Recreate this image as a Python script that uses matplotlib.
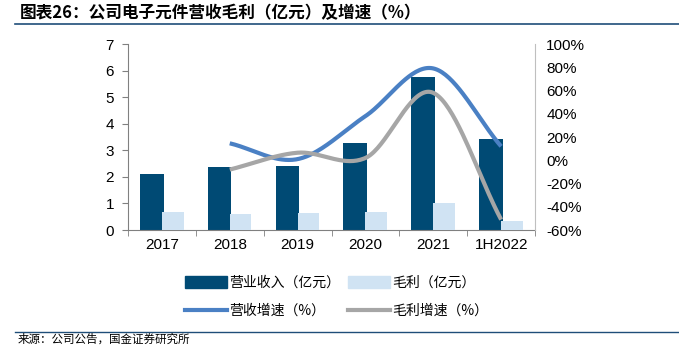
import numpy as np
import matplotlib.pyplot as plt
from matplotlib.patches import Patch
from matplotlib.lines import Line2D
from matplotlib.ticker import FuncFormatter

plt.rcParams['font.family'] = ['Liberation Sans', 'Noto Sans CJK SC', 'DejaVu Sans']

years = ['2017', '2018', '2019', '2020', '2021', '1H2022']
revenue = [2.09, 2.37, 2.40, 3.27, 5.77, 3.41]        # 营业收入（亿元）
gross = [0.67, 0.61, 0.65, 0.67, 1.01, 0.33]          # 毛利（亿元）
rev_growth = [np.nan, 14.6, 1.0, 38.0, 79.0, 12.0]    # 营收增速（%）
gp_growth = [np.nan, -8.0, 6.5, 2.0, 58.0, -51.0]     # 毛利增速（%）

c_rev = '#004A74'
c_gp = '#D0E3F3'
c_rg = '#4A80C4'
c_gg = '#A6A6A6'


def smooth(xs, ys, n=40):
    # Catmull-Rom pass through the points, similar to a smoothed line
    xs = np.asarray(xs, float)
    ys = np.asarray(ys, float)
    px = np.concatenate([[2 * xs[0] - xs[1]], xs, [2 * xs[-1] - xs[-2]]])
    py = np.concatenate([[2 * ys[0] - ys[1]], ys, [2 * ys[-1] - ys[-2]]])
    ox, oy = [], []
    t = np.linspace(0, 1, n)
    for i in range(1, len(px) - 2):
        p0, p1, p2, p3 = py[i - 1], py[i], py[i + 1], py[i + 2]
        q0, q1, q2, q3 = px[i - 1], px[i], px[i + 1], px[i + 2]
        for a, b, c, d, out in ((q0, q1, q2, q3, ox), (p0, p1, p2, p3, oy)):
            out.extend(0.5 * (2 * b + (-a + c) * t + (2 * a - 5 * b + 4 * c - d) * t ** 2
                              + (-a + 3 * b - 3 * c + d) * t ** 3))
    return np.array(ox), np.array(oy)


fig = plt.figure(figsize=(6.79, 3.48), dpi=100)
ax = fig.add_axes([0.1885, 0.339, 0.5995, 0.5345])
x = np.arange(len(years))

ax.bar(x - 0.15, revenue, width=0.35, color=c_rev, zorder=2)
ax.bar(x + 0.16, gross, width=0.32, color=c_gp, zorder=3)
ax.set_xlim(-0.5, len(years) - 0.5)
ax.set_ylim(0, 7)
ax.set_yticks(range(0, 8))
ax.set_xticks(x)
ax.set_xticklabels(years)
ax.set_xticks(np.arange(-0.5, len(years)), minor=True)
ax.tick_params(axis='x', which='major', length=0, pad=6, labelsize=11)
ax.tick_params(axis='x', which='minor', length=4, color='#808080')
ax.tick_params(axis='y', length=4, color='#808080', labelsize=11, pad=6)
for s in ('top', 'right'):
    ax.spines[s].set_visible(False)
ax.spines['left'].set_color('#808080')
ax.spines['bottom'].set_color('#808080')

ax2 = ax.twinx()
ax2.set_ylim(-60, 100)
ax2.set_yticks(range(-60, 101, 20))
ax2.yaxis.set_major_formatter(FuncFormatter(lambda v, p: f'{v:.0f}%'))
ax2.tick_params(axis='y', length=0, labelsize=11, pad=8)
for s in ('top', 'left', 'bottom'):
    ax2.spines[s].set_visible(False)
ax2.spines['right'].set_color('#BFBFBF')

sx, sy = smooth(x[1:], rev_growth[1:])
ax2.plot(sx, sy, color=c_rg, lw=3, solid_capstyle='butt', zorder=4)
sx, sy = smooth(x[1:], gp_growth[1:])
ax2.plot(sx, sy, color=c_gg, lw=3, solid_capstyle='butt', zorder=4)

# legend filled column by column: bars on top row, growth lines below
handles = [Patch(color=c_rev), Line2D([], [], color=c_rg, lw=3),
           Patch(color=c_gp), Line2D([], [], color=c_gg, lw=3)]
labels = ['营业收入（亿元）', '营收增速（%）', '毛利（亿元）', '毛利增速（%）']
fig.legend(handles, labels, ncol=2, frameon=False, loc='upper left',
           bbox_to_anchor=(0.2725, 0.207), borderpad=0, borderaxespad=0,
           handlelength=3.0, handleheight=0.9, handletextpad=0.15,
           columnspacing=0.6, labelspacing=1.0,
           prop={'family': ['Noto Sans CJK SC', 'DejaVu Sans'], 'size': 10})

fig.text(0.029, 0.963, '图表26：公司电子元件营收毛利（亿元）及增速（%）',
         family=['Noto Sans CJK SC'], fontsize=12, fontweight='bold',
         style='italic', va='center')
fig.add_artist(Line2D([0.022, 1.0], [0.931, 0.931], color='#1F4E79', lw=1.2))
fig.add_artist(Line2D([0.022, 1.0], [0.046, 0.046], color='#1F4E79', lw=1))
fig.text(0.0265, 0.025, '来源：公司公告，国金证券研究所', family=['Noto Sans CJK SC'],
         fontsize=8.3, va='center')

fig.savefig('out.png', dpi=100)
